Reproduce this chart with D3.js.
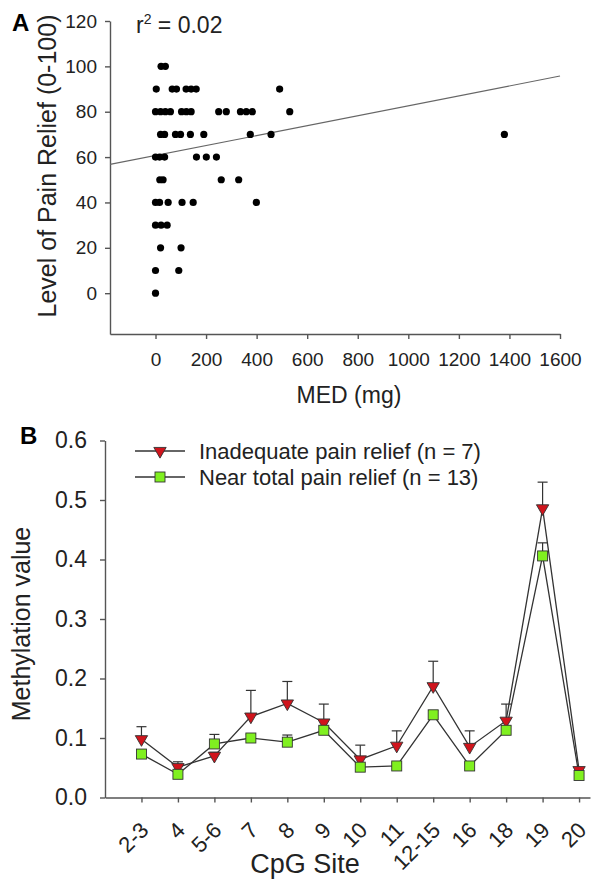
<!DOCTYPE html>
<html>
<head>
<meta charset="utf-8">
<script src="https://cdn.jsdelivr.net/npm/d3@7"></script>
<style>
  body { margin: 0; background: #fff; }
  text { font-family: "Liberation Sans", Arial, sans-serif; fill: #222; }
  .axis path, .axis line { stroke: #555; stroke-width: 1.4; }
</style>
</head>
<body>
<div id="chart"></div>
<script>
// ---- panel A data: MED (mg) vs level of pain relief ----
var medValues = [
  22, 39,
  3, 66, 83, 121, 141, 161, 491,
  0, 20, 39, 59, 103, 122, 141, 250, 280, 336, 359, 383, 531,
  20, 36, 79, 99, 138, 191, 375, 457, 1380,
  0, 16, 36, 162, 201, 241,
  17, 30, 260, 329,
  0, 16, 50, 105, 149, 399,
  0, 22, 46,
  20, 101,
  0, 92,
  0
];
var reliefValues = [
  100, 100,
  90, 90, 90, 90, 90, 90, 90,
  80, 80, 80, 80, 80, 80, 80, 80, 80, 80, 80, 80, 80,
  70, 70, 70, 70, 70, 70, 70, 70, 70,
  60, 60, 60, 60, 60, 60,
  50, 50, 50, 50,
  40, 40, 40, 40, 40, 40,
  30, 30, 30,
  20, 20,
  10, 10,
  0
];
var medTicks = [0, 200, 400, 600, 800, 1000, 1200, 1400, 1600];
var reliefTicks = [0, 20, 40, 60, 80, 100, 120];
// fitted line
var fitIntercept = 60.7;
var fitSlope = 0.0219;

// ---- panel B data: methylation by CpG site ----
var sites = ["2-3", "4", "5-6", "7", "8", "9", "10", "11", "12-15", "16", "18", "19", "20"];
var inadequate = [0.098, 0.051, 0.070, 0.136, 0.158, 0.126, 0.064, 0.087, 0.187, 0.085, 0.129, 0.486, 0.046];
var inadequateErr = [0.021, 0.009, 0.006, 0.044, 0.037, 0.031, 0.024, 0.025, 0.042, 0.027, 0.028, 0.044, 0.004];
var nearTotal = [0.073, 0.039, 0.090, 0.100, 0.093, 0.113, 0.051, 0.053, 0.139, 0.053, 0.113, 0.406, 0.037];
var nearTotalErr = [0.007, 0.006, 0.016, 0.006, 0.012, 0.007, 0.005, 0.005, 0.007, 0.005, 0.007, 0.022, 0.004];
var methTicks = [0, 0.1, 0.2, 0.3, 0.4, 0.5, 0.6];

var svg = d3.select("#chart").append("svg")
  .attr("width", 608)
  .attr("height", 884);

// =============== Panel A ===============
var xA = d3.scaleLinear().domain([-180, 1600]).range([110, 560]);
var yA = d3.scaleLinear().domain([-18, 120]).range([334, 21]);

svg.append("g")
  .attr("class", "axis")
  .attr("transform", "translate(0,334)")
  .call(d3.axisBottom(xA).tickValues(medTicks).tickFormat(d3.format("d")).tickSize(5).tickSizeOuter(0).tickPadding(14))
  .selectAll("text").style("font-size", "19px").style("fill", "#222");

svg.append("g")
  .attr("class", "axis")
  .attr("transform", "translate(110,0)")
  .call(d3.axisLeft(yA).tickValues(reliefTicks).tickSize(5).tickSizeOuter(0).tickPadding(8))
  .selectAll("text").style("font-size", "19px").style("fill", "#222");

// regression line
svg.append("line")
  .attr("x1", xA(-180)).attr("y1", yA(fitIntercept + fitSlope * -180))
  .attr("x2", xA(1600)).attr("y2", yA(fitIntercept + fitSlope * 1600))
  .attr("stroke", "#666")
  .attr("stroke-width", 1.2);

svg.append("g").selectAll("circle")
  .data(medValues)
  .enter()
  .append("circle")
  .attr("cx", d => xA(d))
  .attr("cy", (d, i) => yA(reliefValues[i]))
  .attr("r", 3.6)
  .attr("fill", "#000");

svg.append("text")
  .attr("x", 12).attr("y", 31)
  .style("font-size", "24px").style("font-weight", "bold").style("fill", "#000")
  .text("A");

var r2 = svg.append("text")
  .attr("x", 136).attr("y", 33)
  .style("font-size", "23px");
r2.append("tspan").text("r");
r2.append("tspan").attr("dy", -9).style("font-size", "14px").text("2");
r2.append("tspan").attr("dy", 9).text(" = 0.02");

svg.append("text")
  .attr("transform", "translate(56,166) rotate(-90)")
  .attr("text-anchor", "middle")
  .style("font-size", "25px")
  .text("Level of Pain Relief (0-100)");

svg.append("text")
  .attr("x", 349).attr("y", 403)
  .attr("text-anchor", "middle")
  .style("font-size", "23px")
  .text("MED (mg)");

// =============== Panel B ===============
var xB = d3.scaleLinear().domain([0, 13.3]).range([105, 590]);
var yB = d3.scaleLinear().domain([0, 0.6]).range([797.5, 440.5]);

var xAxisB = svg.append("g")
  .attr("class", "axis")
  .attr("transform", "translate(0,797.5)")
  .call(d3.axisBottom(xB).tickValues(d3.range(1, 14)).tickFormat(i => sites[i - 1]).tickSize(5).tickSizeOuter(0));
xAxisB.selectAll("text")
  .attr("x", 0).attr("y", 0).attr("dy", 0)
  .attr("text-anchor", "end")
  .attr("transform", "translate(8,34) rotate(-45)")
  .style("font-size", "22px").style("fill", "#222");

svg.append("g")
  .attr("class", "axis")
  .attr("transform", "translate(105,0)")
  .call(d3.axisLeft(yB).tickValues(methTicks).tickFormat(d3.format(".1f")).tickSize(5).tickSizeOuter(0).tickPadding(13))
  .selectAll("text").style("font-size", "23px").style("fill", "#222");

var triangle = d3.symbol().type(d3.symbolTriangle).size(66);

function drawErrors(vals, errs) {
  var g = svg.append("g").attr("stroke", "#333").attr("stroke-width", 1.2);
  vals.forEach(function(v, i) {
    var x = xB(i + 1);
    g.append("line").attr("x1", x).attr("x2", x).attr("y1", yB(v)).attr("y2", yB(v + errs[i]));
    g.append("line").attr("x1", x - 5).attr("x2", x + 5).attr("y1", yB(v + errs[i])).attr("y2", yB(v + errs[i]));
  });
}

function drawLine(vals) {
  svg.append("path")
    .datum(vals)
    .attr("fill", "none")
    .attr("stroke", "#333")
    .attr("stroke-width", 1.3)
    .attr("d", d3.line().x((d, i) => xB(i + 1)).y(d => yB(d)));
}

drawErrors(inadequate, inadequateErr);
drawLine(inadequate);
drawErrors(nearTotal, nearTotalErr);
drawLine(nearTotal);

svg.append("g").selectAll("path")
  .data(inadequate)
  .enter()
  .append("path")
  .attr("d", triangle)
  .attr("transform", (d, i) => `translate(${xB(i + 1)},${yB(d)}) rotate(180)`)
  .attr("fill", "#d0141c")
  .attr("stroke", "#333")
  .attr("stroke-width", 0.9);

svg.append("g").selectAll("rect")
  .data(nearTotal)
  .enter()
  .append("rect")
  .attr("x", (d, i) => xB(i + 1) - 5)
  .attr("y", d => yB(d) - 5)
  .attr("width", 10)
  .attr("height", 10)
  .attr("fill", "#80f020")
  .attr("stroke", "#333")
  .attr("stroke-width", 0.9);

// legend
var legendItems = [
  { label: "Inadequate pain relief (n = 7)", y: 451, shape: "tri" },
  { label: "Near total pain relief (n = 13)", y: 477, shape: "sq" }
];
legendItems.forEach(function(item) {
  svg.append("line")
    .attr("x1", 135).attr("x2", 185).attr("y1", item.y).attr("y2", item.y)
    .attr("stroke", "#333").attr("stroke-width", 1.3);
  if (item.shape === "tri") {
    svg.append("path").attr("d", triangle)
      .attr("transform", `translate(160,${item.y}) rotate(180)`)
      .attr("fill", "#d0141c").attr("stroke", "#333").attr("stroke-width", 0.9);
  } else {
    svg.append("rect").attr("x", 155).attr("y", item.y - 5).attr("width", 10).attr("height", 10)
      .attr("fill", "#80f020").attr("stroke", "#333").attr("stroke-width", 0.9);
  }
  svg.append("text")
    .attr("x", 199).attr("y", item.y).attr("dy", "0.35em")
    .style("font-size", "22px")
    .text(item.label);
});

svg.append("text")
  .attr("x", 20).attr("y", 444)
  .style("font-size", "24px").style("font-weight", "bold").style("fill", "#000")
  .text("B");

svg.append("text")
  .attr("transform", "translate(30,624) rotate(-90)")
  .attr("text-anchor", "middle")
  .style("font-size", "25px")
  .text("Methylation value");

svg.append("text")
  .attr("x", 305).attr("y", 873)
  .attr("text-anchor", "middle")
  .style("font-size", "27px")
  .text("CpG Site");
</script>
</body>
</html>
